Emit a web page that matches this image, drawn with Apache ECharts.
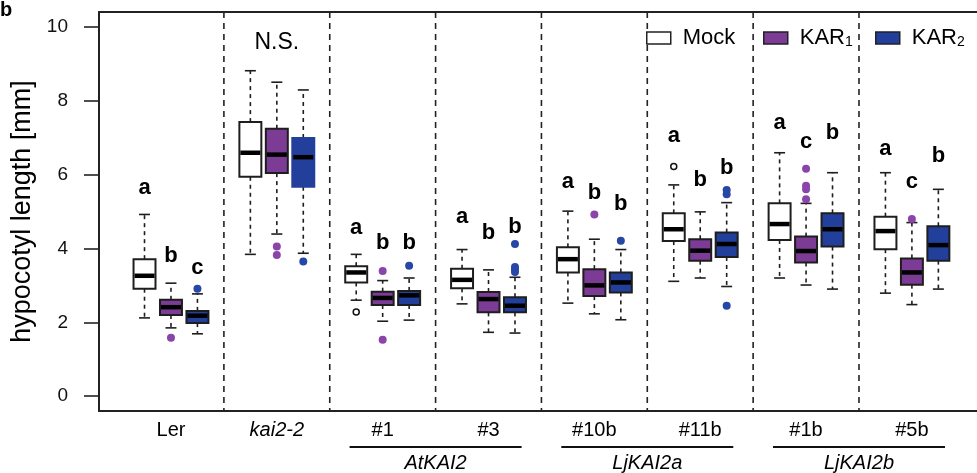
<!DOCTYPE html>
<html><head><meta charset="utf-8">
<script src="https://cdn.jsdelivr.net/npm/echarts@6/dist/echarts.min.js"></script>
<style>html,body{margin:0;padding:0;background:#fff}#c{width:977px;height:473px}</style>
</head><body><div id="c"></div>
<script>
// ---------------- data ----------------
const genotypes = ['Ler', 'kai2-2', '#1', '#3', '#10b', '#11b', '#1b', '#5b'];
const italicGenotypes = ['kai2-2'];
const families = ['AtKAI2', 'LjKAI2a', 'LjKAI2b'];
const familyMembers = [[2, 3], [4, 5], [6, 7]];
const treatments = ['Mock', 'KAR1', 'KAR2'];
const yTicks = [0, 2, 4, 6, 8, 10];

// [lower whisker, Q1, median, Q3, upper whisker] per genotype
const mockStats = [
  [2.12, 2.91, 3.26, 3.71, 4.92],
  [3.84, 5.94, 6.59, 7.42, 8.81],
  [2.60, 3.08, 3.35, 3.52, 3.84],
  [2.50, 2.92, 3.15, 3.45, 3.97],
  [2.52, 3.35, 3.71, 4.03, 5.01],
  [3.11, 4.20, 4.52, 4.95, 5.72],
  [3.20, 4.23, 4.66, 5.22, 6.59],
  [2.79, 3.98, 4.47, 4.86, 6.05]
];
const kar1Stats = [
  [1.85, 2.20, 2.41, 2.61, 3.06],
  [4.39, 6.04, 6.54, 7.24, 8.50],
  [2.03, 2.47, 2.66, 2.83, 3.13],
  [1.73, 2.27, 2.63, 2.82, 3.42],
  [2.23, 2.71, 3.00, 3.44, 4.25],
  [3.20, 3.67, 3.94, 4.25, 4.99],
  [3.01, 3.62, 3.93, 4.32, 5.22],
  [2.48, 3.02, 3.35, 3.73, 4.70]
];
const kar2Stats = [
  [1.69, 1.98, 2.18, 2.31, 2.77],
  [3.87, 5.67, 6.47, 6.99, 8.29],
  [2.06, 2.47, 2.73, 2.85, 3.20],
  [1.71, 2.27, 2.45, 2.68, 3.22],
  [2.07, 2.81, 3.08, 3.35, 3.97],
  [2.97, 3.77, 4.12, 4.43, 5.24],
  [2.90, 4.05, 4.52, 4.95, 6.05],
  [2.90, 3.67, 4.09, 4.60, 5.60]
];
const mockOutliers = [[], [], [2.28], [], [], [6.22], [], []];
const kar1Outliers = [[1.58], [4.05, 3.82], [3.39, 1.53], [], [4.92], [], [6.16, 5.70, 5.60, 5.33], [4.80]];
const kar2Outliers = [[2.91], [3.65], [3.53], [4.12, 3.50, 3.43, 3.36], [4.21], [5.58, 5.47, 2.45], [], []];

// significance letters and the value at which each letter sits
const mockLetters = ['a', '', 'a', 'a', 'a', 'a', 'a', 'a'];
const kar1Letters = ['b', '', 'b', 'b', 'b', 'b', 'c', 'c'];
const kar2Letters = ['c', '', 'b', 'b', 'b', 'b', 'b', 'b'];
const mockLetterY = [5.45, 0, 4.37, 4.67, 5.61, 6.85, 7.20, 6.50];
const kar1LetterY = [3.61, 0, 3.97, 4.24, 5.31, 5.66, 6.69, 5.61];
const kar2LetterY = [3.29, 0, 3.97, 4.40, 5.02, 6.00, 6.93, 6.31];
const groupNotes = ['', 'N.S.', '', '', '', '', '', ''];
const groupNoteY = [0, 9.36, 0, 0, 0, 0, 0, 0];

// ---------------- styling / layout ----------------
const FONT = "'Liberation Sans', Arial, Helvetica, sans-serif";
const boxFill = ['#ffffff', '#7c3b95', '#22409b'];
const outFill = ['#ffffff', '#8a45aa', '#2747a6'];
const edge = '#1e1e1e';
const borderlessBox = {2: [1]}; // treatment index -> genotype indices drawn without outline
const BOX_W = 0.83;
const STEP = 4; // axis units per genotype block
const pos = (g, t) => g * STEP + t + 1;

const statsAll = [mockStats, kar1Stats, kar2Stats];
const outAll = [mockOutliers, kar1Outliers, kar2Outliers];
const lettersAll = [mockLetters, kar1Letters, kar2Letters];
const letterYAll = [mockLetterY, kar1LetterY, kar2LetterY];

function boxRender(t) {
  return function (params, api) {
    const x = api.value(0);
    const g = api.value(6);
    const cx = api.coord([x, api.value(3)])[0];
    const yLo = api.coord([x, api.value(1)])[1];
    const yQ1 = api.coord([x, api.value(2)])[1];
    const yMd = api.coord([x, api.value(3)])[1];
    const yQ3 = api.coord([x, api.value(4)])[1];
    const yHi = api.coord([x, api.value(5)])[1];
    const w = api.size([BOX_W, 0])[0];
    const cap = w * 0.5;
    const noEdge = (borderlessBox[t] || []).indexOf(g) >= 0;
    const wl = {stroke: edge, lineWidth: 1.6, lineDash: [4, 4]};
    const cl = {stroke: edge, lineWidth: 1.6};
    return {
      type: 'group',
      children: [
        {type: 'line', shape: {x1: cx, y1: yQ3, x2: cx, y2: yHi}, style: wl},
        {type: 'line', shape: {x1: cx, y1: yQ1, x2: cx, y2: yLo}, style: wl},
        {type: 'line', shape: {x1: cx - cap / 2, y1: yHi, x2: cx + cap / 2, y2: yHi}, style: cl},
        {type: 'line', shape: {x1: cx - cap / 2, y1: yLo, x2: cx + cap / 2, y2: yLo}, style: cl},
        {type: 'rect', shape: {x: cx - w / 2, y: yQ3, width: w, height: yQ1 - yQ3},
          style: {fill: boxFill[t], stroke: noEdge ? boxFill[t] : edge, lineWidth: 2}},
        {type: 'line', shape: {x1: cx - w / 2 + 1, y1: yMd, x2: cx + w / 2 - 1, y2: yMd},
          style: {stroke: '#000', lineWidth: 4.5}}
      ]
    };
  };
}

const series = [];

// genotype separators
series.push({
  type: 'custom', name: 'sep', silent: true,
  data: genotypes.slice(1).map((g, i) => [(i + 1) * STEP, 0]),
  renderItem: function (params, api) {
    const x = api.coord([api.value(0), 0])[0];
    const cs = params.coordSys;
    return {type: 'line', shape: {x1: x, y1: cs.y, x2: x, y2: cs.y + cs.height},
      style: {stroke: '#222', lineWidth: 1.6, lineDash: [6, 5]}};
  }
});

treatments.forEach((name, t) => {
  series.push({
    type: 'custom', name: name, silent: true,
    itemStyle: {color: boxFill[t]},
    dimensions: ['x', 'lo', 'q1', 'md', 'q3', 'hi', 'g'],
    encode: {x: 0, y: [1, 2, 3, 4, 5]},
    data: statsAll[t].map((s, g) => [pos(g, t)].concat(s).concat([g])),
    renderItem: boxRender(t),
    z: 3
  });
  const od = [];
  outAll[t].forEach((arr, g) => arr.forEach(v => od.push([pos(g, t), v])));
  series.push({
    type: 'scatter', name: name + ' outliers', silent: true,
    data: od, symbol: 'circle',
    symbolSize: t === 0 ? 6 : 8,
    itemStyle: t === 0 ? {color: '#fff', borderColor: '#111', borderWidth: 1.5, opacity: 1}
                        : {color: outFill[t], opacity: 1},
    z: 4
  });
  // letters
  const ld = [];
  lettersAll[t].forEach((l, g) => { if (l) ld.push([pos(g, t), letterYAll[t][g], l]); });
  series.push({
    type: 'custom', name: name + ' letters', silent: true,
    data: ld.map(d => [d[0], d[1]]),
    renderItem: function (params, api) {
      const p = api.coord([api.value(0), api.value(1)]);
      return {type: 'text', x: p[0], y: p[1] - 7,
        style: {text: ld[params.dataIndex][2], fill: '#000', font: "bold 22px " + FONT,
          align: 'center', verticalAlign: 'middle'}};
    },
    z: 5
  });
});

// group notes (N.S.)
series.push({
  type: 'custom', name: 'notes', silent: true,
  data: genotypes.map((g, i) => [i * STEP + 2, groupNoteY[i]]),
  renderItem: function (params, api) {
    const txt = groupNotes[params.dataIndex];
    if (!txt) return null;
    const p = api.coord([api.value(0), api.value(1)]);
    return {type: 'text', x: p[0], y: p[1] - 8,
      style: {text: txt, fill: '#000', font: "23px " + FONT, align: 'center', verticalAlign: 'middle'}};
  }
});

// genotype labels below axis
series.push({
  type: 'custom', name: 'xlabels', silent: true, clip: false,
  data: genotypes.map((g, i) => [i * STEP + 2, 0]),
  renderItem: function (params, api) {
    const x = api.coord([api.value(0), 0])[0];
    const cs = params.coordSys;
    const name = genotypes[params.dataIndex];
    const it = italicGenotypes.indexOf(name) >= 0 ? 'italic ' : '';
    return {type: 'text', x: x, y: cs.y + cs.height + 19,
      style: {text: name, fill: '#000', font: it + "20px " + FONT, align: 'center', verticalAlign: 'middle'}};
  }
});

// family underline + label
series.push({
  type: 'custom', name: 'families', silent: true, clip: false,
  data: familyMembers.map(m => [m[0] * STEP + 1 - 0.25, m[1] * STEP + 3 + 0.25]),
  renderItem: function (params, api) {
    const x1 = api.coord([api.value(0), 0])[0];
    const x2 = api.coord([api.value(1), 0])[0];
    const cs = params.coordSys;
    const yb = cs.y + cs.height;
    return {type: 'group', children: [
      {type: 'line', shape: {x1: x1, y1: yb + 36, x2: x2, y2: yb + 36}, style: {stroke: '#111', lineWidth: 2}},
      {type: 'text', x: (x1 + x2) / 2, y: yb + 52,
        style: {text: families[params.dataIndex], fill: '#000', font: "italic 20px " + FONT,
          align: 'center', verticalAlign: 'middle'}}
    ]};
  }
});

// legend entries (one legend per treatment, anchored where the reference puts them)
const legendPos = [641, 758, 870];
const legends = treatments.map((t, i) => ({
  data: [{name: t, icon: 'rect', itemStyle: {color: boxFill[i], borderColor: '#222', borderWidth: 1.5}}],
  left: legendPos[i], top: 22, itemWidth: 24, itemHeight: 12, selectedMode: false,
  formatter: n => n === 'Mock' ? '{m|Mock}' : '{m|KAR}{s|' + n.slice(3) + '}',
  textStyle: {color: '#000', fontFamily: FONT, padding: [0, 0, 0, 7],
    rich: {m: {fontSize: 22, lineHeight: 22, fontFamily: FONT, color: '#000'},
           s: {fontSize: 14, lineHeight: 14, verticalAlign: 'bottom', fontFamily: FONT, color: '#000'}}}
}));

const option = {
  animation: false,
  backgroundColor: '#fff',
  title: {text: 'b', left: 0, top: 0, padding: 0, textStyle: {fontFamily: FONT, fontWeight: 'bold', fontSize: 20, color: '#000'}},
  legend: legends,
  grid: {left: 99, right: 0, top: 12, bottom: 62, containLabel: false},
  xAxis: [
    {type: 'value', min: -0.72, max: 32.46, position: 'bottom',
      axisLine: {show: true, onZero: false, lineStyle: {color: '#222', width: 2}},
      axisTick: {show: false}, axisLabel: {show: false}, splitLine: {show: false}},
    {type: 'value', min: -0.72, max: 32.46, position: 'top',
      axisLine: {show: true, onZero: false, lineStyle: {color: '#222', width: 2}},
      axisTick: {show: false}, axisLabel: {show: false}, splitLine: {show: false}}
  ],
  yAxis: {
    type: 'value', min: -0.4, max: 10.4,
    name: 'hypocotyl length [mm]', nameLocation: 'middle', nameGap: 56,
    nameTextStyle: {fontFamily: FONT, fontSize: 27, color: '#000'},
    axisLine: {show: true, onZero: false, lineStyle: {color: '#222', width: 2}},
    axisTick: {show: true, length: 15, customValues: yTicks, lineStyle: {color: '#222', width: 1.6}},
    axisLabel: {show: true, margin: 31, customValues: yTicks, fontFamily: FONT, fontSize: 19, color: '#111'},
    splitLine: {show: false}
  },
  series: series
};

const chart = echarts.init(document.getElementById('c'), null, {renderer: 'canvas'});
chart.setOption(option);
</script></body></html>
